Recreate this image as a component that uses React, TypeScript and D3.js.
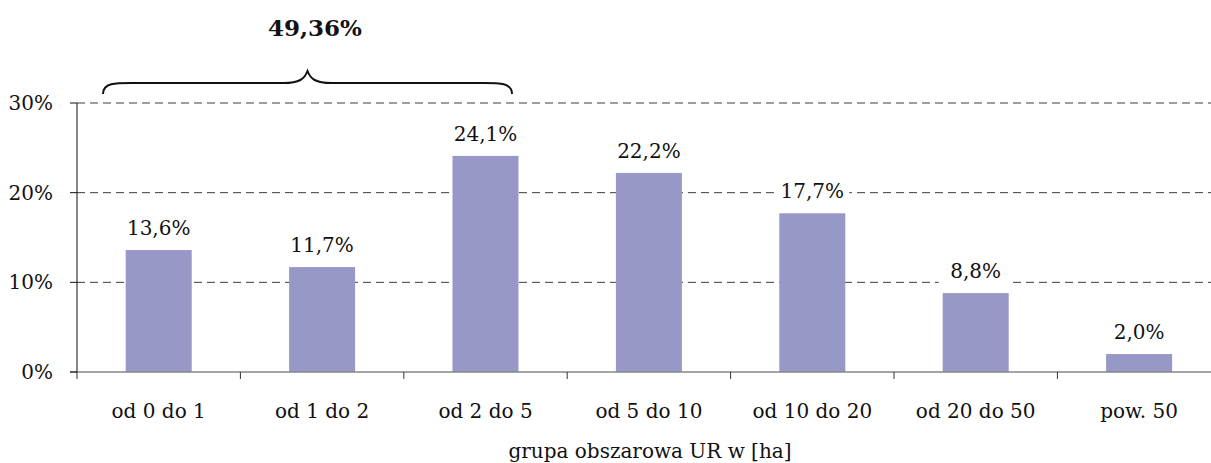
import React from "react";
import * as d3 from "d3";

const categories = ["od 0 do 1", "od 1 do 2", "od 2 do 5", "od 5 do 10", "od 10 do 20", "od 20 do 50", "pow. 50"];
const values = [13.6, 11.7, 24.1, 22.2, 17.7, 8.8, 2.0];
const valueLabels = ["13,6%", "11,7%", "24,1%", "22,2%", "17,7%", "8,8%", "2,0%"];
const yTicks = [0, 10, 20, 30];
const yTickLabels = ["0%", "10%", "20%", "30%"];
const braceLabel = "49,36%";
const xTitle = "grupa obszarowa UR w [ha]";

const W = 1211;
const H = 463;
const FONT = "'DejaVu Serif', serif";

export default function App() {
  const x = d3
    .scaleBand<string>()
    .domain(categories)
    .range([77, 77 + 7 * 163.4])
    .paddingInner(0.596)
    .paddingOuter(0.298);
  const y = d3.scaleLinear().domain([0, 30]).range([372, 103]);
  const step = x.step();
  const boundaries = d3.range(categories.length + 1).map((i) => 77 + i * step);

  const bx0 = 103, bx1 = 512, bTop = 71, bMid = (bx0 + bx1) / 2, bLine = 83, bEnd = 94;
  const brace = `M${bx0},${bEnd} C${bx0},${bLine - 1} ${bx0 + 14},${bLine} ${bx0 + 34},${bLine} L${bMid - 24},${bLine} C${bMid - 8},${bLine} ${bMid - 3},${bLine - 4} ${bMid},${bTop} C${bMid + 3},${bLine - 4} ${bMid + 8},${bLine} ${bMid + 24},${bLine} L${bx1 - 34},${bLine} C${bx1 - 14},${bLine} ${bx1},${bLine - 1} ${bx1},${bEnd}`;

  return (
    <div style={{ position: "absolute", left: 0, top: 0 }}>
      <svg width={W} height={H} style={{ display: "block" }} fontFamily={FONT}>
        <rect width={W} height={H} fill="#fff" />
        {/* gridlines */}
        {yTicks.filter((t) => t > 0).map((t) => (
          <line key={"g" + t} x1={77} x2={W} y1={y(t)} y2={y(t)} stroke="#3c3c3c" strokeWidth={1} strokeDasharray="8,5" />
        ))}
        {/* bars */}
        {values.map((v, i) => (
          <rect key={"b" + i} x={x(categories[i])} y={y(v)} width={x.bandwidth()} height={y(0) - y(v)} fill="#9898C8" />
        ))}
        {/* value labels */}
        {values.map((v, i) => {
          const cx = (x(categories[i]) as number) + x.bandwidth() / 2;
          const by = y(v) - 15;
          return (
            <g key={"l" + i}>
              <rect x={cx - 37} y={by - 17} width={74} height={22} fill="#fff" />
              <text x={cx} y={by} textAnchor="middle" fontSize={20} fill="#111">
                {valueLabels[i]}
              </text>
            </g>
          );
        })}
        {/* x axis */}
        <line x1={70} x2={W} y1={y(0)} y2={y(0)} stroke="#868686" strokeWidth={1.3} />
        {boundaries.map((b, i) => (
          <line key={"t" + i} x1={b} x2={b} y1={y(0)} y2={y(0) + 7} stroke="#333" strokeWidth={1} />
        ))}
        {/* y axis */}
        <line x1={77} x2={77} y1={y(30)} y2={y(0)} stroke="#111" strokeWidth={1} />
        {yTicks.map((t) => (
          <line key={"yt" + t} x1={70} x2={77} y1={y(t)} y2={y(t)} stroke="#111" strokeWidth={1} />
        ))}
        {yTicks.map((t, i) => (
          <text key={"yl" + t} x={53} y={y(t) + 7} textAnchor="end" fontSize={20} fill="#111">
            {yTickLabels[i]}
          </text>
        ))}
        {categories.map((c) => (
          <text key={"c" + c} x={(x(c) as number) + x.bandwidth() / 2} y={418} textAnchor="middle" fontSize={20} fill="#111">
            {c}
          </text>
        ))}
        <text x={650} y={458} textAnchor="middle" fontSize={20} fill="#111">
          {xTitle}
        </text>
        {/* brace annotation */}
        <path d={brace} fill="none" stroke="#111" strokeWidth={2} />
        <text x={315} y={36} textAnchor="middle" fontSize={23} fontWeight="bold" fill="#111">
          {braceLabel}
        </text>
      </svg>
    </div>
  );
}
